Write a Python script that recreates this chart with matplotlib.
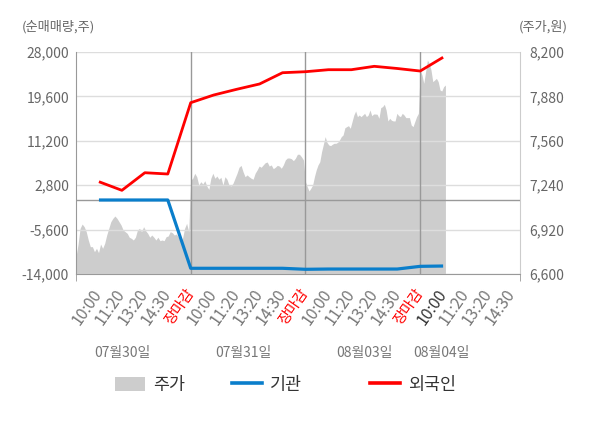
import numpy as np
import matplotlib
matplotlib.use("Agg")
import matplotlib.pyplot as plt
from matplotlib.patches import Patch
from matplotlib.lines import Line2D

plt.rcParams['font.family'] = ['Noto Sans CJK KR', 'DejaVu Sans']

time_labels = ["10:00", "11:20", "13:20", "14:30", "장마감"] * 3 + ["10:00", "11:20", "13:20", "14:30"]
dates = ["07월30일", "07월31일", "08월03일", "08월04일"]

# 순매매량 (주), one value per time label
foreign = [3460, 1830, 5160, 4920, 18410, 19860, 20940, 21950, 24080, 24270,
           24650, 24650, 25290, 24880, 24400, 27000]
institution = [0, 0, 0, 0, -12920, -12920, -12920, -12920, -12920, -13110,
               -13060, -13060, -13060, -13060, -12550, -12490]

# 주가 (원), intraday per day
price_d1 = [6725, 6814, 6929, 6960, 6941, 6905, 6845, 6797, 6797, 6761, 6785, 6754, 6816, 6785,
            6821, 6881, 6929, 6977, 7001, 7018, 7001, 6977, 6953, 6917, 6905, 6893, 6865, 6857,
            6845, 6865, 6917, 6929, 6905, 6941, 6912, 6893, 6865, 6881, 6865, 6845, 6865, 6840,
            6845, 6840, 6869, 6874, 6905, 6898, 6881, 6888, 6865, 6833, 6857, 6929, 6965, 6905]
price_d2 = [7277, 7290, 7326, 7301, 7241, 7265, 7249, 7272, 7234, 7210, 7290, 7326, 7290, 7306,
            7283, 7297, 7241, 7301, 7283, 7241, 7234, 7254, 7290, 7326, 7369, 7383, 7337, 7301,
            7314, 7301, 7290, 7283, 7326, 7350, 7378, 7369, 7386, 7402, 7407, 7378, 7386, 7359,
            7369, 7383, 7378, 7362, 7386, 7422, 7436, 7436, 7431, 7417, 7434, 7463, 7463, 7445, 7422]
price_d3 = [7265, 7229, 7198, 7218, 7241, 7301, 7350, 7386, 7409, 7481, 7535, 7590, 7549, 7530,
            7525, 7535, 7542, 7542, 7549, 7566, 7590, 7602, 7654, 7662, 7669, 7650, 7698, 7746,
            7775, 7734, 7746, 7734, 7746, 7758, 7734, 7746, 7782, 7741, 7753, 7753, 7751, 7722,
            7799, 7806, 7823, 7782, 7703, 7722, 7708, 7703, 7703, 7758, 7741, 7734, 7758, 7746,
            7727, 7727, 7727, 7674, 7662, 7698, 7734, 7758]
price_d4 = [8070, 8034, 7974, 8058, 8142, 8119, 8070, 7986, 7998, 8010, 7986, 7926, 7919, 7950, 7962]

GRAY_AREA = '#cdcdcd'
BLUE = '#0a7ecb'
RED = '#ff0000'

fig = plt.figure(figsize=(6, 4.28), dpi=100)
ax = fig.add_axes([76 / 600, 1 - 274 / 428, 444 / 600, 222 / 428])
ax2 = ax.twinx()
ax.set_zorder(ax2.get_zorder() + 1)
ax.patch.set_visible(False)
ax2.patch.set_facecolor('#f4f4f4')

# price area, each day spread over 5 label slots
px, py = [], []
for d, day in enumerate([price_d1, price_d2, price_d3]):
    px.extend(np.linspace(5 * d, 5 * d + 5, len(day), endpoint=False))
    py.extend(day)
px.extend(np.linspace(15, 16.1, len(price_d4)))
py.extend(price_d4)
ax2.fill_between(px, py, 6600, color=GRAY_AREA, lw=0)
ax2.set_ylim(6600, 8200)
ax2.set_yticks(np.arange(6600, 8201, 320))
ax2.set_yticklabels([f"{v:,}" for v in np.arange(6600, 8201, 320)])

xs = np.arange(1, len(foreign) + 1)
ax.set_ylim(-14000, 28000)
ax.set_xlim(0, 19.35)
lt = np.arange(-14000, 28001, 8400)
ax.set_yticks(lt)
ax.set_yticklabels([f"{v:,}" for v in lt])
ax.grid(axis='y', color='#dddddd', lw=1)
ax.axhline(0, color='#999999', lw=1)
for b in [5, 10, 15]:
    ax.axvline(b, color='#999999', lw=1)

ax.plot(xs, institution, color=BLUE, lw=2.3, solid_capstyle='butt')
ax.plot(xs, foreign, color=RED, lw=2.0, solid_capstyle='butt')

ax.set_xticks(np.arange(1, len(time_labels) + 1))
ax.set_xticklabels(time_labels, rotation=55, ha='right', va='center',
                   rotation_mode='anchor', fontsize=11.5)
for i, t in enumerate(ax.get_xticklabels()):
    if t.get_text() == "장마감":
        t.set_color(RED)
        t.set_fontsize(10.5)
    elif i == 15:
        t.set_color('#333333')
    else:
        t.set_color('#777777')
ax.set_xticks([0, 5, 10, 15, 19.35], minor=True)
ax.tick_params(axis='x', which='major', length=0, pad=12)
ax.tick_params(axis='x', which='minor', length=5, color='#999999')
ax.tick_params(axis='y', length=0, labelsize=10, labelcolor='#666666', pad=5)
ax2.tick_params(axis='y', length=0, labelsize=10, labelcolor='#666666', pad=7)

for s in ['top', 'right']:
    ax.spines[s].set_visible(False)
for s in ['top', 'left', 'bottom']:
    ax2.spines[s].set_visible(False)
ax.spines['left'].set_color('#999999')
ax.spines['bottom'].set_color('#999999')
ax2.spines['right'].set_color('#cccccc')

fig.text(22 / 600, 1 - 27 / 428, "(순매매량,주)", ha='left', va='center', fontsize=9.5, color='#666666')
fig.text(568 / 600, 1 - 27 / 428, "(주가,원)", ha='right', va='center', fontsize=9.5, color='#666666')

for name, cx in zip(dates, [122, 243, 364, 441]):
    fig.text(cx / 600, 1 - 353 / 428, name, ha='center', va='center', fontsize=10, color='#777777')

# legend entries placed one by one to match the uneven spacing
entries = [
    (Patch(facecolor=GRAY_AREA, edgecolor='none'), "주가", 115),
    (Line2D([], [], color=BLUE, lw=2.6), "기관", 232),
    (Line2D([], [], color=RED, lw=2.6), "외국인", 370),
]
for h, lab, lx in entries:
    fig.legend([h], [lab], loc='center left', bbox_to_anchor=(lx / 600, 1 - 385 / 428),
               frameon=False, fontsize=12.5, handlelength=1.7, handleheight=0.9,
               handletextpad=0.5, borderpad=0, borderaxespad=0, labelcolor='#333333')

fig.savefig("out.png", dpi=100)
